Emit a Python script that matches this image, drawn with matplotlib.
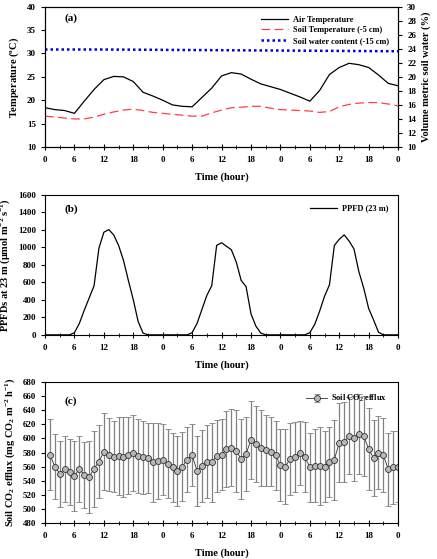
import matplotlib
matplotlib.use("Agg")
import matplotlib.pyplot as plt
import numpy as np
from matplotlib.ticker import MultipleLocator

plt.rcParams['font.family'] = ['Liberation Serif', 'DejaVu Serif']
plt.rcParams['font.weight'] = 'bold'
plt.rcParams['mathtext.default'] = 'regular'

# panel (a): temperatures and soil water, every 2 hours
hours_a = list(range(0, 73, 2))
air_temp = [18.4, 18.0, 17.8, 17.2, 19.8, 22.3, 24.4, 25.1, 25.0, 24.0,
            21.7, 20.9, 20.0, 19.0, 18.7, 18.6, 20.6, 22.6, 25.2, 25.9,
            25.6, 24.5, 23.5, 22.9, 22.3, 21.5, 20.7, 19.8, 22.1, 25.5,
            27.0, 27.9, 27.6, 27.0, 25.4, 23.6, 23.1]
soil_temp = [16.6, 16.4, 16.2, 16.0, 16.0, 16.4, 17.0, 17.5, 17.9, 18.1,
             17.8, 17.4, 17.2, 17.0, 16.8, 16.6, 16.6, 17.3, 17.9, 18.4,
             18.5, 18.7, 18.7, 18.3, 18.0, 17.9, 17.8, 17.7, 17.4, 17.6,
             18.6, 19.1, 19.4, 19.5, 19.5, 19.2, 18.8]
hours_sw = [0, 12, 24, 36, 48, 60, 72]
soil_water = [23.9, 23.9, 23.85, 23.8, 23.75, 23.7, 23.65]

# panel (b): PPFD, hourly
hours_b = list(range(0, 73))
ppfd = [0, 0, 0, 0, 0, 0, 25, 130, 280, 420, 560, 990, 1170, 1200, 1140, 1020,
        850, 620, 400, 150, 20, 0, 0, 0,
        0, 0, 0, 0, 0, 0, 25, 130, 290, 450, 560, 1020, 1050, 1010, 970, 830,
        620, 550, 240, 100, 20, 0, 0, 0,
        0, 0, 0, 0, 0, 0, 25, 120, 270, 440, 570, 1020, 1090, 1140, 1070, 980,
        720, 530, 300, 170, 30, 0, 0, 0, 0]

# panel (c): soil CO2 efflux, hourly mean and SD
hours_c = list(range(1, 73))
co2_mean = [577, 560, 550, 557, 552, 546, 557, 548, 545, 557, 567, 581,
            577, 574, 575, 574, 576, 579, 575, 573, 572, 566, 568, 570,
            564, 559, 554, 560, 570, 576, 554, 561, 567, 566, 575, 577,
            585, 587, 582, 571, 578, 598, 592, 586, 583, 581, 576, 562,
            560, 571, 574, 579, 574, 559, 561, 561, 560, 567, 570, 594,
            595, 604, 600, 607, 603, 585, 572, 580, 576, 556, 559, 560]
co2_sd = [51, 46, 47, 47, 47, 50, 47, 47, 51, 54, 52, 55,
          52, 51, 55, 57, 55, 54, 53, 52, 50, 56, 54, 50,
          49, 49, 50, 49, 46, 44, 50, 51, 52, 56, 52, 51,
          54, 55, 59, 57, 53, 56, 54, 54, 51, 49, 49, 51,
          54, 51, 50, 46, 50, 49, 52, 56, 51, 50, 57, 56,
          57, 55, 60, 57, 57, 58, 54, 52, 53, 52, 52, 51]

xtick_pos = list(range(0, 73, 6))
xtick_lab = ['0', '6', '12', '18'] * 3 + ['0']

fig = plt.figure(figsize=(4.37, 5.59), dpi=100)
left, width, height = 0.103, 0.808, 0.251
ax1 = fig.add_axes([left, 0.737, width, height])
ax2 = fig.add_axes([left, 0.401, width, height])
ax3 = fig.add_axes([left, 0.065, width, height])

tfs = 6.5
lfs = 7.5


def style_x(ax):
    ax.set_xlim(0, 72)
    ax.set_xticks(xtick_pos)
    ax.set_xticklabels(xtick_lab)
    ax.xaxis.set_minor_locator(MultipleLocator(3))
    ax.tick_params(axis='x', which='major', direction='inout', length=5, width=0.8, labelsize=tfs, pad=4)
    ax.tick_params(axis='x', which='minor', direction='inout', length=3, width=0.6)
    ax.tick_params(axis='y', which='major', direction='out', length=3, width=0.8, labelsize=tfs)
    ax.set_xlabel('Time (hour)', fontsize=lfs, fontweight='bold', labelpad=6)
    for s in ax.spines.values():
        s.set_linewidth(0.8)


# (a)
ax1.plot(hours_a, air_temp, color='black', lw=0.9, label='Air Temperature')
ax1.plot(hours_a, soil_temp, color='#ff4040', lw=0.9, ls=(0, (7, 3.5)),
         label='Soil Temperature (-5 cm)')
ax1.set_ylim(10, 40)
ax1.set_yticks(range(10, 41, 5))
style_x(ax1)
ax1.set_ylabel('Temperature ($^{o}$C)', fontsize=lfs, fontweight='bold')
ax1b = ax1.twinx()
ax1b.plot(hours_sw, soil_water, color='#0000dd', lw=1.8, ls=(0, (1, 1.2)),
          label='Soil water content (-15 cm)')
ax1b.set_ylim(10, 30)
ax1b.set_yticks(range(10, 31, 2))
ax1b.tick_params(axis='y', direction='out', length=3, width=0.8, labelsize=tfs)
ax1b.set_ylabel('Volume metric soil water (%)', fontsize=lfs, fontweight='bold')
h1, l1 = ax1.get_legend_handles_labels()
h2, l2 = ax1b.get_legend_handles_labels()
ax1b.legend(h1 + h2, l1 + l2, loc='upper right', frameon=False, fontsize=6,
            handlelength=3.2, borderaxespad=0.7, labelspacing=0.3, handletextpad=0.6)
ax1.text(0.055, 0.9, '(a)', transform=ax1.transAxes, fontsize=8, fontweight='bold')

# (b)
ax2.plot(hours_b, ppfd, color='black', lw=0.9, label='PPFD (23 m)')
ax2.set_ylim(0, 1600)
ax2.set_yticks(range(0, 1601, 200))
style_x(ax2)
ax2.set_ylabel('PPFDs at 23 m ($\\mu$mol m$^{-2}$ s$^{-1}$)', fontsize=lfs, fontweight='bold')
ax2.legend(loc='upper right', frameon=False, fontsize=6, handlelength=3.2,
           borderaxespad=0.8, handletextpad=0.6)
ax2.text(0.055, 0.88, '(b)', transform=ax2.transAxes, fontsize=8, fontweight='bold')

# (c)
ax3.errorbar(hours_c, co2_mean, yerr=co2_sd, color='#303030', lw=0.6,
             ecolor='#808080', elinewidth=0.9, capsize=2, capthick=0.8,
             marker='o', ms=4.3, mfc='#b8b8b8', mec='#303030', mew=0.6,
             label='Soil CO$_2$ efflux')
ax3.set_ylim(480, 680)
ax3.set_yticks(range(480, 681, 20))
style_x(ax3)
ax3.set_ylabel('Soil CO$_2$ efflux (mg CO$_2$ m$^{-2}$ h$^{-1}$)', fontsize=lfs, fontweight='bold')
ax3.legend(loc='upper right', frameon=False, fontsize=6, handlelength=2.5,
           borderaxespad=0.9, handletextpad=0.5)
ax3.text(0.055, 0.85, '(c)', transform=ax3.transAxes, fontsize=8, fontweight='bold')

fig.savefig('out.png', dpi=100)
